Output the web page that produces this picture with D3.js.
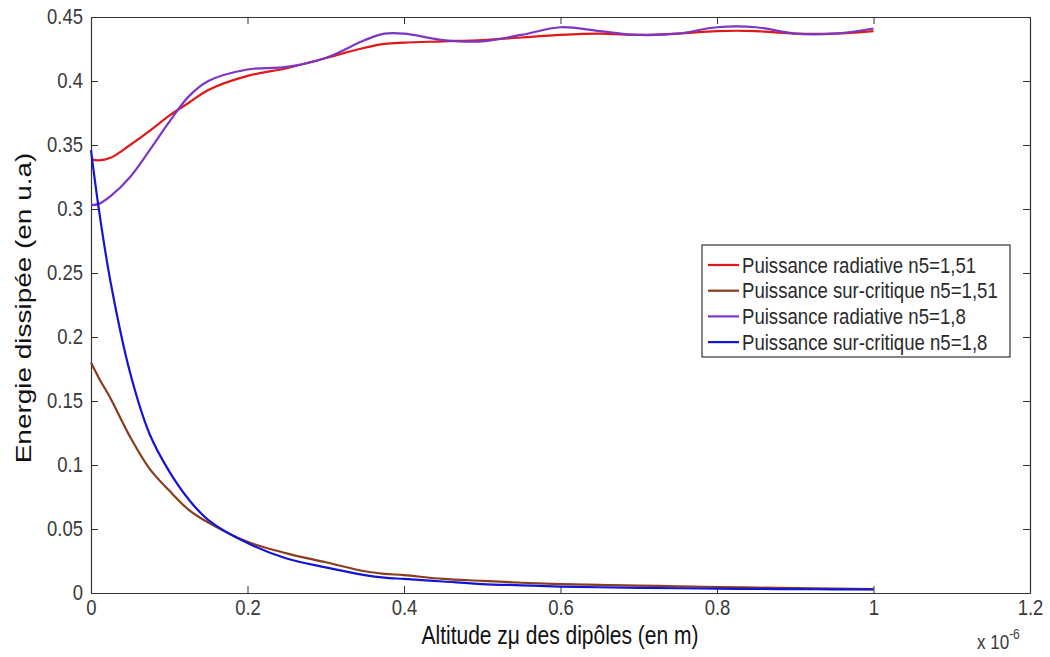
<!DOCTYPE html>
<html><head><meta charset="utf-8">
<script src="https://cdn.jsdelivr.net/npm/d3@7"></script>
<style>body{margin:0;background:#fff}svg{display:block}text{font-family:"Liberation Sans",Arial,sans-serif}</style>
</head><body>
<svg id="c" width="1050" height="657"></svg>
<script>
// Altitude (units of 1e-6 m)
const altitude = [0,0.01,0.025,0.05,0.075,0.1,0.125,0.15,0.2,0.25,0.3,0.35,0.375,0.4,0.45,0.5,0.55,0.6,0.65,0.7,0.75,0.8,0.85,0.9,0.95,1.0];
const radiative151 = [0.339,0.338,0.340,0.350,0.361,0.373,0.383,0.393,0.404,0.410,0.418,0.426,0.429,0.430,0.431,0.432,0.434,0.436,0.437,0.436,0.437,0.439,0.439,0.437,0.437,0.439];
const surcritique151 = [0.180,0.168,0.152,0.122,0.097,0.080,0.065,0.055,0.040,0.031,0.024,0.017,0.015,0.014,0.011,0.0095,0.008,0.007,0.0063,0.0058,0.0052,0.0047,0.0042,0.0038,0.0034,0.003];
const radiative18 = [0.303,0.304,0.310,0.325,0.346,0.368,0.388,0.400,0.409,0.411,0.418,0.432,0.437,0.437,0.432,0.431,0.436,0.442,0.439,0.436,0.437,0.442,0.442,0.437,0.437,0.441];
const surcritique18 = [0.346,0.300,0.243,0.172,0.124,0.095,0.073,0.057,0.039,0.027,0.020,0.014,0.012,0.011,0.009,0.007,0.006,0.005,0.0045,0.004,0.0037,0.0034,0.0032,0.003,0.0029,0.0028];
const seriesNames = ["Puissance radiative n5=1,51","Puissance sur-critique n5=1,51","Puissance radiative n5=1,8","Puissance sur-critique n5=1,8"];
const seriesColors = ["#e01818","#8a3c1c","#7c36c6","#1414d8"];
const xTicks = [0,0.2,0.4,0.6,0.8,1,1.2];
const yTicks = [0,0.05,0.1,0.15,0.2,0.25,0.3,0.35,0.4,0.45];

const svg = d3.select("#c");
const L=91,R=1030,T=17,B=593;
const x = d3.scaleLinear().domain([0,1.2]).range([L,R]);
const y = d3.scaleLinear().domain([0,0.45]).range([B,T]);
const axisCol="#333";

const fmt = d=>d3.format("~g")(d);
const tk=7;
const gB = svg.append("g").attr("transform",`translate(0,${B})`).call(d3.axisBottom(x).tickValues(xTicks).tickFormat(fmt).tickSizeInner(-tk).tickSizeOuter(0).tickPadding(6));
const gT = svg.append("g").attr("transform",`translate(0,${T})`).call(d3.axisTop(x).tickValues(xTicks).tickFormat("").tickSizeInner(-tk).tickSizeOuter(0));
const gL = svg.append("g").attr("transform",`translate(${L},0)`).call(d3.axisLeft(y).tickValues(yTicks).tickFormat(fmt).tickSizeInner(-tk).tickSizeOuter(0).tickPadding(8));
const gR = svg.append("g").attr("transform",`translate(${R},0)`).call(d3.axisRight(y).tickValues(yTicks).tickFormat("").tickSizeInner(-tk).tickSizeOuter(0));
[gB,gT,gL,gR].forEach(g=>{
  g.select(".domain").attr("stroke",axisCol).attr("stroke-width",1.2);
  g.selectAll(".tick line").attr("stroke",axisCol);
  g.selectAll(".tick text").attr("fill","#3a3a3a").style("font-size","18.5px").style("font-family","'Liberation Sans',Arial,sans-serif").attr("transform","scale(1,1.15)");
});

const line = d3.line().x((d,i)=>x(altitude[i])).y(d=>y(d)).curve(d3.curveCatmullRom.alpha(0.5));
const allSeries=[radiative151,surcritique151,radiative18,surcritique18];
allSeries.forEach((s,k)=>{
  svg.append("path").datum(s).attr("d",line).attr("fill","none").attr("stroke",seriesColors[k]).attr("stroke-width",2.2).attr("stroke-linejoin","round");
});

// legend
const lg = svg.append("g");
lg.append("rect").attr("x",702).attr("y",245).attr("width",308).attr("height",112).attr("fill","#fff").attr("stroke",axisCol).attr("stroke-width",1.2);
seriesNames.forEach((n,k)=>{
  const yy=265+k*25.7;
  lg.append("line").attr("x1",708).attr("x2",739).attr("y1",yy).attr("y2",yy).attr("stroke",seriesColors[k]).attr("stroke-width",2.2);
  lg.append("text").attr("transform",`translate(742,${yy+7.5}) scale(1,1.2)`).attr("fill","#2a2a2a").style("font-size","18.6px").text(n);
});

// labels
svg.append("text").attr("transform","translate(560,644) scale(1,1.25)").attr("text-anchor","middle").attr("fill","#111").style("font-size","21px").text("Altitude zμ des dipôles (en m)");
svg.append("text").attr("transform","translate(31,308) scale(1,1.3) rotate(-90)").attr("text-anchor","middle").attr("fill","#111").style("font-size","21.5px").text("Energie dissipée (en u.a)");
const ex = svg.append("text").attr("transform","translate(977,649) scale(1,1.2)").attr("fill","#3a3a3a").style("font-size","17px");
ex.append("tspan").text("x 10");
ex.append("tspan").attr("dy",-8).style("font-size","12px").text("-6");
</script>
</body></html>
